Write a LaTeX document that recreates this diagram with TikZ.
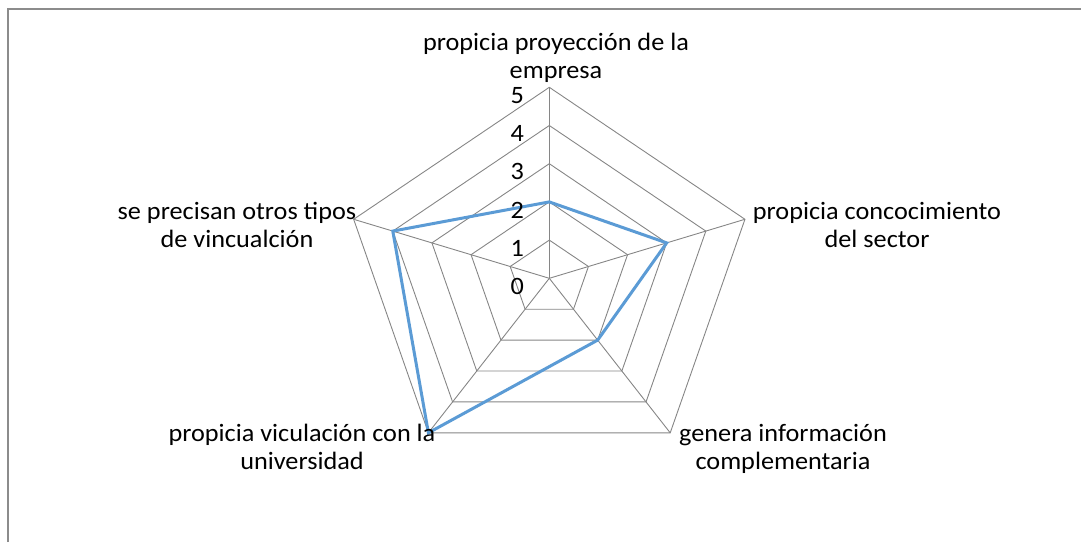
\documentclass[tikz,border=0pt]{standalone}
\usepackage{fontspec}
\setmainfont[FakeStretch=1.05]{Carlito}
\definecolor{gridgray}{HTML}{868686}
\definecolor{framegray}{HTML}{8C8C8C}
\definecolor{serieblue}{HTML}{5B9BD5}
\begin{document}
\begin{tikzpicture}[x=1pt,y=-1pt,
  gridline/.style={draw=gridgray,line width=0.9pt},
  serieline/.style={draw=serieblue,line width=3pt,line join=miter},
  catlabel/.style={align=center,font=\fontsize{25}{27.5}\selectfont,inner sep=0pt},
  ticklabel/.style={anchor=east,font=\fontsize{25}{27.5}\selectfont,inner sep=0pt}]
\useasboundingbox (0,0) rectangle (1081,542);
% frame
\draw[framegray,line width=1.6pt] (8,542) -- (8,9) -- (1081,9);
% geometry
\def\cx{549.3}\def\cy{278.3}\def\R{191}\def\k{1.077}
\coordinate (c) at (\cx,\cy);
\foreach \i/\a in {0/90,1/18,2/-54,3/-126,4/162}{
  \foreach \l in {1,...,5}{
    \coordinate (p\i-\l) at ({\cx+\k*\R*\l/5*cos(\a)},{\cy-\R*\l/5*sin(\a)});
  }
}
% grid polygons
\foreach \l in {1,...,5}{
  \draw[gridline] (p0-\l) -- (p1-\l) -- (p2-\l) -- (p3-\l) -- (p4-\l) -- cycle;
}
% spokes
\foreach \i in {0,...,4}{
  \draw[gridline] (c) -- (p\i-5);
}
% data series: 2, 3, 2, 5, 4
\draw[serieline] (p0-2) -- (p1-3) -- (p2-2) -- (p3-5) -- (p4-4) -- cycle;
% tick labels
\node[ticklabel] (t0) at (524,{\cy+8}) {0};
\foreach \l in {1,...,5}{
  \node[ticklabel] (t\l) at (524,{\cy-\R*\l/5+8}) {\l};
}
% category labels
\node[catlabel] (lab0) at (556,58) {propicia proyección de la\\empresa};
\node[catlabel] (lab1) at (877,225) {propicia concocimiento\\del sector};
\node[catlabel] (lab2) at (783,449) {genera información\\complementaria};
\node[catlabel] (lab3) at (302,447) {propicia viculación con la\\universidad};
\node[catlabel] (lab4) at (237,225) {se precisan otros tipos\\de vincualción};
\end{tikzpicture}
\end{document}
